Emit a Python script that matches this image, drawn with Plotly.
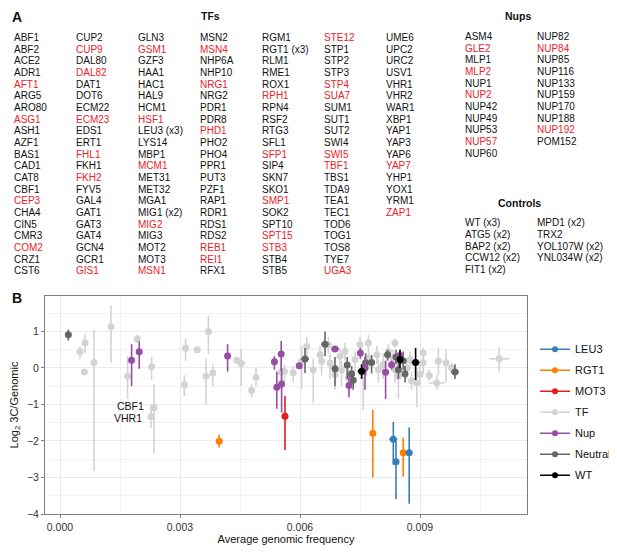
import plotly.graph_objects as go

# Panel A: lijsten met gen-namen
tf_cols = [
    ["ABF1", "ABF2", "ACE2", "ADR1", "AFT1", "ARG5", "ARO80", "ASG1", "ASH1", "AZF1", "BAS1",
     "CAD1", "CAT8", "CBF1", "CEP3", "CHA4", "CIN5", "CMR3", "COM2", "CRZ1", "CST6"],
    ["CUP2", "CUP9", "DAL80", "DAL82", "DAT1", "DOT6", "ECM22", "ECM23", "EDS1", "ERT1", "FHL1",
     "FKH1", "FKH2", "FYV5", "GAL4", "GAT1", "GAT3", "GAT4", "GCN4", "GCR1", "GIS1"],
    ["GLN3", "GSM1", "GZF3", "HAA1", "HAC1", "HAL9", "HCM1", "HSF1", "LEU3 (x3)", "LYS14", "MBP1",
     "MCM1", "MET31", "MET32", "MGA1", "MIG1 (x2)", "MIG2", "MIG3", "MOT2", "MOT3", "MSN1"],
    ["MSN2", "MSN4", "NHP6A", "NHP10", "NRG1", "NRG2", "PDR1", "PDR8", "PHD1", "PHO2", "PHO4",
     "PPR1", "PUT3", "PZF1", "RAP1", "RDR1", "RDS1", "RDS2", "REB1", "REI1", "RFX1"],
    ["RGM1", "RGT1 (x3)", "RLM1", "RME1", "ROX1", "RPH1", "RPN4", "RSF2", "RTG3", "SFL1", "SFP1",
     "SIP4", "SKN7", "SKO1", "SMP1", "SOK2", "SPT10", "SPT15", "STB3", "STB4", "STB5"],
    ["STE12", "STP1", "STP2", "STP3", "STP4", "SUA7", "SUM1", "SUT1", "SUT2", "SWI4", "SWI5",
     "TBF1", "TBS1", "TDA9", "TEA1", "TEC1", "TOD6", "TOG1", "TOS8", "TYE7", "UGA3"],
    ["UME6", "UPC2", "URC2", "USV1", "VHR1", "VHR2", "WAR1", "XBP1", "YAP1", "YAP3", "YAP6",
     "YAP7", "YHP1", "YOX1", "YRM1", "ZAP1"],
]
nup_cols = [
    ["ASM4", "GLE2", "MLP1", "MLP2", "NUP1", "NUP2", "NUP42", "NUP49", "NUP53", "NUP57", "NUP60"],
    ["NUP82", "NUP84", "NUP85", "NUP116", "NUP133", "NUP159", "NUP170", "NUP188", "NUP192", "POM152"],
]
control_cols = [
    ["WT (x3)", "ATG5 (x2)", "BAP2 (x2)", "CCW12 (x2)", "FIT1 (x2)"],
    ["MPD1 (x2)", "TRX2", "YOL107W (x2)", "YNL034W (x2)"],
]
red_names = ["AFT1", "ASG1", "CEP3", "COM2", "CUP9", "DAL82", "ECM23", "FHL1", "FKH2", "GIS1",
             "GSM1", "HSF1", "MCM1", "MIG2", "MSN1", "MSN4", "NRG1", "PHD1", "REB1", "REI1",
             "RPH1", "SFP1", "SMP1", "SPT15", "STB3", "STE12", "STP4", "SUA7", "SWI5", "TBF1",
             "UGA3", "YAP7", "ZAP1", "GLE2", "MLP2", "NUP2", "NUP57", "NUP84", "NUP192"]

# Panel B: x, y, onder- en bovengrens, horizontale fout
tf_x = [0.000500, 0.000625, 0.000608, 0.000850, 0.001275, 0.001690, 0.001930, 0.002290, 0.002350,
        0.002275, 0.003140, 0.003110, 0.003430, 0.003710, 0.003650, 0.003820, 0.004420, 0.004530,
        0.004790, 0.004900, 0.005530, 0.005610, 0.005830, 0.006040, 0.006170, 0.006330, 0.006500,
        0.006540, 0.006710, 0.006750, 0.006875, 0.007000, 0.007040, 0.007125, 0.007210, 0.007375,
        0.007500, 0.007580, 0.007710, 0.007710, 0.007920, 0.007960, 0.008080, 0.008210, 0.008330,
        0.008375, 0.008375, 0.008460, 0.008670, 0.008750, 0.008790, 0.008920, 0.009000, 0.009080,
        0.009080, 0.009230, 0.009420, 0.009460, 0.009650, 0.009790, 0.010980]
tf_y = [0.44, 0.68, -0.11, 0.15, 1.13, -0.23, 0.79, 0.03, -1.09,
        -1.34, 0.54, -0.46, 0.50, 1.00, -0.23, -0.14, 0.21, 0.12,
        -0.62, -0.26, -0.12, -0.10, -0.13, 0.18, 0.59, -0.05, 0.36,
        0.18, 0.63, 0.13, -0.18, 0.32, -0.05, 0.45, -0.27, 0.23,
        0.64, -0.18, 0.68, 0.27, 0.36, -0.05, 0.09, 0.45, 0.27,
        0.68, -0.05, -0.23, 0.00, 0.23, -0.36, -0.41, -0.18, 0.14,
        0.41, -0.21, -0.41, 0.18, 0.14, 0.00, 0.25]
tf_lo = [0.25, 0.40, -0.11, -2.82, 0.15, -0.85, 0.70, -0.33, -2.33,
         -1.65, 0.20, -0.77, 0.50, 0.38, -1.00, -0.50, 0.15, -0.50,
         -0.80, -0.50, -0.60, -0.45, -0.40, -0.57, 0.30, -0.95, 0.10,
         -0.20, 0.40, -0.30, -0.60, 0.05, -0.50, 0.20, -0.70, -0.10,
         0.45, -1.15, 0.45, -0.05, 0.10, -0.40, -0.30, 0.20, -0.10,
         0.55, -0.40, -0.85, -0.30, -0.05, -0.60, -1.08, -0.45, -0.15,
         0.25, -0.35, -0.60, -0.20, -0.40, -0.15, -0.10]
tf_hi = [0.60, 0.93, -0.11, 1.05, 1.70, 0.33, 0.90, 0.30, -0.45,
         -1.00, 0.80, -0.20, 0.50, 1.42, 0.25, 0.10, 0.25, 0.52,
         -0.45, 0.00, 0.20, 0.10, 0.05, 0.60, 0.85, 0.25, 0.60,
         0.45, 0.85, 0.40, 0.10, 0.55, 0.20, 0.70, 0.05, 0.45,
         0.85, 0.20, 0.90, 0.50, 0.60, 0.25, 0.40, 0.65, 0.50,
         0.80, 0.25, 0.10, 0.25, 0.45, -0.10, 0.00, 0.10, 0.40,
         0.55, -0.05, -0.20, 0.55, 0.50, 0.15, 0.55]
tf_xerr = [0, 0, 0, 0, 0, 0, 0, 0, 0,
           0, 0, 0, 0, 0, 0, 0, 0, 0.0001,
           0, 0, 0, 0, 0, 0, 0, 0, 0,
           0, 0, 0, 0, 0, 0, 0, 0, 0,
           0, 0, 0, 0, 0, 0, 0, 0, 0,
           0, 0, 0, 0, 0, 0, 0, 0, 0,
           0, 0, 0.0002, 0, 0, 0, 0.00025]

nup_x = [0.00179, 0.00198, 0.00419, 0.00536, 0.00553, 0.00542, 0.00554, 0.00598,
         0.006875, 0.007225, 0.00751, 0.007625, 0.00814, 0.00829, 0.00850]
nup_y = [0.21, 0.44, 0.33, 0.17, 0.38, -0.53, -0.44, 0.06, 0.52, -0.48, 0.41, 0.00, -0.12, 0.09, 0.34]
nup_lo = [-0.50, -0.02, -0.10, -0.05, -0.08, -1.12, -1.22, 0.06, 0.52, -0.80, 0.25, -0.60, -0.85, -0.05, 0.20]
nup_hi = [0.65, 0.73, 0.65, 0.32, 0.74, -0.10, 0.00, 0.06, 0.52, -0.15, 0.55, 0.30, 0.20, 0.20, 0.50]
nup_xerr = [0, 0, 0, 0, 0, 0, 0, 0, 0.0001, 0, 0, 0, 0, 0, 0]

neutral_x = [0.000208, 0.006125, 0.006625, 0.006875, 0.007180, 0.007290, 0.007330, 0.007640,
             0.007790, 0.008190, 0.008400, 0.008460, 0.008580, 0.008625, 0.009875]
neutral_y = [0.91, 0.245, 0.65, -0.02, 0.08, -0.16, -0.34, 0.14, 0.15, 0.36, 0.30, -0.05, 0.20, -0.16, -0.11]
neutral_lo = [0.75, -0.14, 0.32, -0.50, -0.30, -0.45, -0.60, -0.20, -0.15, 0.20, 0.10, -0.30, -0.05, -0.40, -0.30]
neutral_hi = [1.05, 0.545, 1.00, 0.30, 0.30, 0.05, -0.10, 0.40, 0.35, 0.50, 0.50, 0.20, 0.45, 0.05, 0.10]
neutral_xerr = [0, 0.0001, 0.0001, 0, 0, 0, 0, 0, 0, 0, 0, 0, 0, 0, 0.0001]

wt_x = [0.00754, 0.00850, 0.00889]
wt_y = [-0.09, 0.23, 0.15]
wt_lo = [-0.30, 0.00, -0.33]
wt_hi = [0.10, 0.50, 0.55]
wt_xerr = [0.0001, 0, 0.0001]

leu3_x = [0.008333, 0.008400, 0.008730]
leu3_y = [-1.95, -2.57, -2.32]
leu3_lo = [-2.65, -3.59, -3.72]
leu3_hi = [-1.48, -2.00, -1.63]
leu3_xerr = [0.0001, 0, 0]

rgt1_x = [0.00398, 0.00782, 0.00858]
rgt1_y = [-2.01, -1.79, -2.32]
rgt1_lo = [-2.18, -3.00, -2.97]
rgt1_hi = [-1.83, -1.155, -1.91]
rgt1_xerr = [0, 0, 0.00005]

mot3_x = [0.005625]
mot3_y = [-1.32]
mot3_lo = [-2.25]
mot3_hi = [-0.77]
mot3_xerr = [0]

groups = [
    # naam, kleur, x, y, lo, hi, xerr, legend-volgorde
    ("TF", "#D3D3D3", tf_x, tf_y, tf_lo, tf_hi, tf_xerr, 4),
    ("Neutral", "#666666", neutral_x, neutral_y, neutral_lo, neutral_hi, neutral_xerr, 6),
    ("Nup", "#984EA3", nup_x, nup_y, nup_lo, nup_hi, nup_xerr, 5),
    ("WT", "#000000", wt_x, wt_y, wt_lo, wt_hi, wt_xerr, 7),
    ("MOT3", "#E41A1C", mot3_x, mot3_y, mot3_lo, mot3_hi, mot3_xerr, 3),
    ("RGT1", "#FF7F00", rgt1_x, rgt1_y, rgt1_lo, rgt1_hi, rgt1_xerr, 2),
    ("LEU3", "#377EB8", leu3_x, leu3_y, leu3_lo, leu3_hi, leu3_xerr, 1),
]

FONT = "Liberation Sans, Arial, Helvetica, sans-serif"
# de pagina heeft 8px body-marge: figuur iets kleiner en alles 8px verschoven
OFF = 8
W, H = 617 - OFF, 552 - OFF
L, R, T, B = 45 - OFF, 90, 296 - OFF, 38

fig = go.Figure()
for name, color, xs, ys, lo, hi, xe, rank in groups:
    fig.add_trace(go.Scatter(
        x=xs, y=ys, mode="markers", name=name, legendrank=rank, legendgroup=name,
        marker=dict(color=color, size=7),
        error_y=dict(type="data", symmetric=False,
                     array=[h - v for h, v in zip(hi, ys)],
                     arrayminus=[v - l for l, v in zip(lo, ys)],
                     color=color, thickness=1.6, width=0),
        error_x=dict(type="data", array=xe, color=color, thickness=1.6, width=0),
        showlegend=False))
    # legenda: lijn + punt
    fig.add_trace(go.Scatter(
        x=[None], y=[None], mode="lines+markers", name=name, legendrank=rank, legendgroup=name,
        line=dict(color=color, width=1.6), marker=dict(color=color, size=6)))


def px2x(px):
    return (px - OFF - L) / (W - L - R)


def py2y(py):
    return (H - B - (py - OFF)) / (H - T - B)


ann = []
# panel labels
ann.append(dict(x=px2x(10), y=py2y(17), text="<b>A</b>", font=dict(size=14)))
ann.append(dict(x=px2x(10), y=py2y(298), text="<b>B</b>", font=dict(size=14)))
ann.append(dict(x=px2x(210), y=py2y(16), text="<b>TFs</b>", xanchor="center", font=dict(size=10.5)))
ann.append(dict(x=px2x(518), y=py2y(16), text="<b>Nups</b>", xanchor="center", font=dict(size=10.5)))
ann.append(dict(x=px2x(519), y=py2y(203), text="<b>Controls</b>", xanchor="center", font=dict(size=10.5)))


def add_cols(cols, x0, dx, y0, dy):
    for ci, col in enumerate(cols):
        for ri, nm in enumerate(col):
            clr = "#E8222A" if nm in red_names else "#111111"
            ann.append(dict(x=px2x(x0 + ci * dx), y=py2y(y0 + ri * dy), text=nm,
                            font=dict(size=10, color=clr)))


add_cols(tf_cols, 11.5, 62.1, 37.5, 11.66)
add_cols(nup_cols, 463, 72, 36.5, 11.66)
add_cols(control_cols, 463, 72, 223, 11.66)

for a in ann:
    a.update(xref="paper", yref="paper", showarrow=False, yanchor="middle",
             xanchor=a.get("xanchor", "left"))
    a["font"] = dict(family=FONT, **a["font"])

# labels CBF1 / VHR1
fig.add_annotation(x=0.002160, y=-1.05, text="CBF1", showarrow=False, xanchor="right",
                   font=dict(family=FONT, size=10.5, color="#111"))
fig.add_annotation(x=0.002100, y=-1.38, text="VHR1", showarrow=False, xanchor="right",
                   font=dict(family=FONT, size=10.5, color="#111"))
for a in ann:
    fig.add_annotation(**a)

axis_common = dict(showline=True, linecolor="#7F7F7F", linewidth=1, mirror=True,
                   showgrid=True, gridcolor="#EBEBEB", gridwidth=1,
                   ticks="outside", ticklen=3, tickcolor="#7F7F7F",
                   tickfont=dict(family=FONT, size=10.5, color="#333333"),
                   zeroline=False, automargin=False)

fig.update_xaxes(range=[-0.000375, 0.011675], tickvals=[0, 0.003, 0.006, 0.009],
                 ticktext=["0.000", "0.003", "0.006", "0.009"],
                 minor=dict(tickvals=[0.0015, 0.0045, 0.0075, 0.0105], showgrid=True,
                            gridcolor="#F2F2F2", gridwidth=0.6, ticks=""),
                 title=dict(text="Average genomic frequency", standoff=2,
                            font=dict(family=FONT, size=11, color="#111")),
                 **axis_common)
fig.update_yaxes(range=[-4, 1.97], tickvals=[1, 0, -1, -2, -3, -4],
                 ticktext=["1", "0", "\u22121", "\u22122", "\u22123", "\u22124"],
                 minor=dict(tickvals=[1.5, 0.5, -0.5, -1.5, -2.5, -3.5], showgrid=True,
                            gridcolor="#F2F2F2", gridwidth=0.6, ticks=""),
                 title=dict(text="Log<sub>2</sub> 3C/Genomic", standoff=7,
                            font=dict(family=FONT, size=11, color="#111")),
                 **axis_common)

fig.update_layout(
    width=W, height=H,
    margin=dict(l=L, r=R, t=T, b=B, autoexpand=False),
    plot_bgcolor="white", paper_bgcolor="white",
    font=dict(family=FONT, color="#111"),
    legend=dict(x=px2x(535), y=0.8225, xanchor="left", yanchor="top",
                font=dict(family=FONT, size=11, color="#111"),
                tracegroupgap=2, bgcolor="rgba(0,0,0,0)"),
)

fig.write_html("out.html")
